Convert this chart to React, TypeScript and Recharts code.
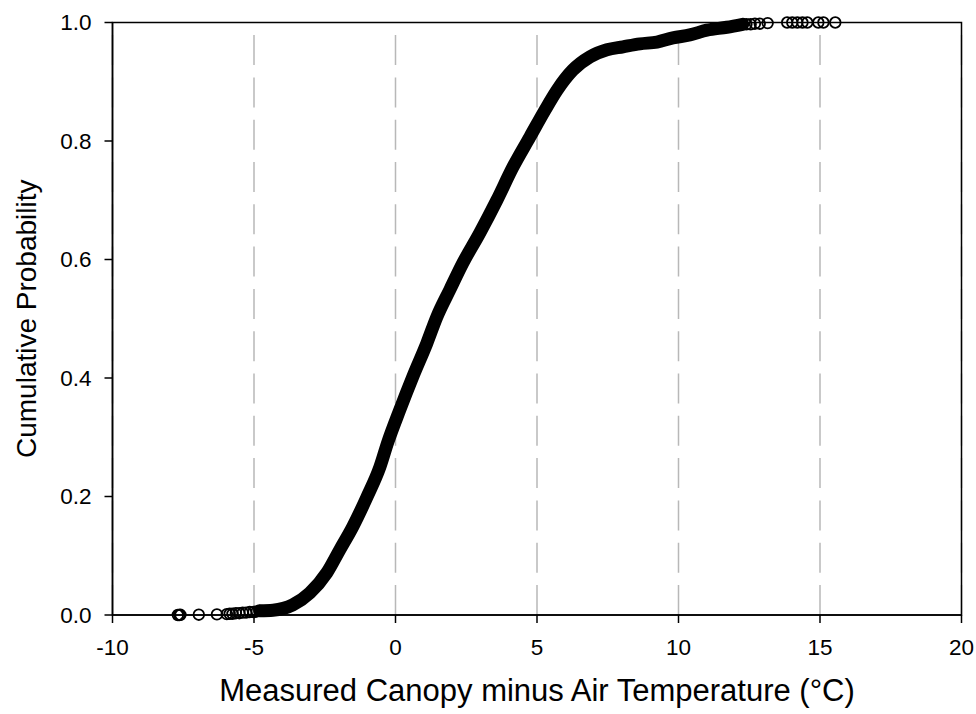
import {
  ComposedChart,
  CartesianGrid,
  Line,
  ReferenceArea,
  Scatter,
  XAxis,
  YAxis,
} from "recharts";

// tick values
const xTicks = [-10, -5, 0, 5, 10, 15, 20];
const yTicks = [0, 0.2, 0.4, 0.6, 0.8, 1.0];

// sparse points in the lower tail
const lowTailX = [-7.69, -7.64, -7.6, -6.95, -6.31, -5.96, -5.86, -5.76, -5.64, -5.52, -5.4, -5.28, -5.15, -5.02, -4.9, -4.8];
const lowTailY = [0, 0, 0.0003, 0.0005, 0.001, 0.0015, 0.002, 0.002, 0.003, 0.003, 0.004, 0.004, 0.005, 0.005, 0.006, 0.007];

// dense part of the cumulative curve
const bandX = [-4.8, -4.33, -3.63, -3.03, -2.43, -1.97, -1.51, -1.01, -0.55, -0.27, 0.15, 0.61, 1.11, 1.46, 1.92, 2.38, 2.98, 3.58, 4.15, 4.75, 5.28, 5.71, 6.27, 6.87, 7.47, 8.04, 8.64, 9.24, 9.8, 10.4, 11.0, 11.71, 12.27];
const bandY = [0.007, 0.008, 0.017, 0.037, 0.071, 0.11, 0.149, 0.199, 0.25, 0.292, 0.346, 0.402, 0.459, 0.503, 0.549, 0.594, 0.645, 0.7, 0.756, 0.807, 0.852, 0.886, 0.92, 0.942, 0.954, 0.959, 0.964, 0.967, 0.974, 0.979, 0.987, 0.992, 0.997];

// sparse points in the upper tail
const highTailX = [12.4, 12.55, 12.7, 12.87, 13.15, 13.84, 14.02, 14.2, 14.38, 14.55, 14.94, 15.12, 15.54];
const highTailY = [0.997, 0.997, 0.998, 0.998, 0.999, 1.0, 1.0, 1.0, 1.0, 1.0, 1.0, 1.0, 1.0];

const toPoints = (xs: number[], ys: number[]) => xs.map((x, i) => ({ x, y: ys[i] }));

const lowTail = toPoints(lowTailX, lowTailY);
const band = toPoints(bandX, bandY);
const highTail = toPoints(highTailX, highTailY);

const FONT = "'Liberation Sans', Arial, Helvetica, sans-serif";

function OpenCircle(props: any) {
  const { cx, cy } = props;
  if (cx == null || cy == null) return null;
  return <circle cx={cx} cy={cy} r={5.3} fill="none" stroke="#000" strokeWidth={1.8} />;
}

export default function App() {
  return (
    <div style={{ position: "absolute", left: 0, top: 0, fontFamily: FONT }}>
      <ComposedChart
        width={976}
        height={714}
        margin={{ top: 22.5, right: 14.5, left: 0, bottom: 0 }}
      >
        <CartesianGrid
          horizontal={false}
          stroke="#b8b8b8"
          strokeWidth={1.5}
          strokeDasharray="30 12.3"
          strokeDashoffset={29.7}
        />
        <XAxis
          type="number"
          dataKey="x"
          domain={[-10, 20]}
          ticks={xTicks}
          interval={0}
          height={99}
          tickSize={8}
          tickMargin={16}
          axisLine={{ stroke: "#000", strokeWidth: 1.5 }}
          tickLine={{ stroke: "#000", strokeWidth: 1.5 }}
          tick={{ fill: "#000", fontSize: 22.5, fontFamily: FONT }}
          label={{
            value: "Measured Canopy minus Air Temperature (°C)",
            position: "insideBottom",
            offset: 13,
            fill: "#000",
            fontSize: 31,
            fontFamily: FONT,
          }}
        />
        <YAxis
          type="number"
          dataKey="y"
          domain={[0, 1]}
          ticks={yTicks}
          interval={0}
          width={112.5}
          tickSize={8}
          tickMargin={13}
          tickFormatter={(v: number) => v.toFixed(1)}
          axisLine={{ stroke: "#000", strokeWidth: 1.5 }}
          tickLine={{ stroke: "#000", strokeWidth: 1.5 }}
          tick={{ fill: "#000", fontSize: 22.5, fontFamily: FONT }}
          label={{
            value: "Cumulative Probability",
            angle: -90,
            position: "insideLeft",
            offset: 26,
            fill: "#000",
            fontSize: 28,
            fontFamily: FONT,
            style: { textAnchor: "middle" },
          }}
        />
        <ReferenceArea
          x1={-10}
          x2={20}
          y1={0}
          y2={1}
          fill="none"
          stroke="#000"
          strokeWidth={1.5}
        />
        <Line
          data={band}
          dataKey="y"
          type="monotone"
          stroke="#000"
          strokeWidth={13}
          strokeLinecap="round"
          strokeLinejoin="round"
          dot={false}
          activeDot={false}
          isAnimationActive={false}
        />
        <Scatter data={lowTail} shape={OpenCircle} isAnimationActive={false} />
        <Scatter data={highTail} shape={OpenCircle} isAnimationActive={false} />
      </ComposedChart>
    </div>
  );
}
